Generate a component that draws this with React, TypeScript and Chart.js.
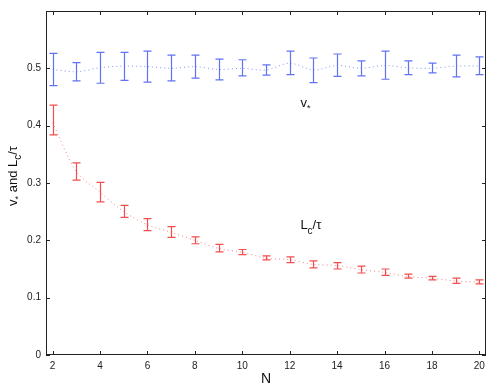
import React, { useEffect, useRef } from 'react';
import { Chart, registerables } from 'chart.js';

Chart.register(...registerables);

const N = [2, 3, 4, 5, 6, 7, 8, 9, 10, 11, 12, 13, 14, 15, 16, 17, 18, 19, 20];
const vStar = [0.498, 0.494, 0.501, 0.504, 0.503, 0.5, 0.503, 0.498, 0.5, 0.497, 0.509, 0.497, 0.505, 0.5, 0.505, 0.501, 0.5, 0.504, 0.504];
const vStarLow = [0.47, 0.478, 0.474, 0.479, 0.476, 0.478, 0.483, 0.48, 0.487, 0.488, 0.489, 0.475, 0.486, 0.487, 0.481, 0.489, 0.492, 0.485, 0.489];
const vStarHigh = [0.526, 0.51, 0.528, 0.528, 0.53, 0.523, 0.523, 0.516, 0.515, 0.506, 0.53, 0.518, 0.525, 0.513, 0.53, 0.513, 0.509, 0.523, 0.52];
const lcTau = [0.405, 0.32, 0.284, 0.25, 0.227, 0.214, 0.2, 0.186, 0.179, 0.169, 0.166, 0.158, 0.156, 0.149, 0.144, 0.137, 0.134, 0.129, 0.127];
const lcTauLow = [0.384, 0.305, 0.267, 0.24, 0.217, 0.205, 0.194, 0.18, 0.175, 0.166, 0.161, 0.152, 0.15, 0.143, 0.139, 0.134, 0.131, 0.125, 0.124];
const lcTauHigh = [0.436, 0.335, 0.301, 0.261, 0.238, 0.224, 0.206, 0.193, 0.184, 0.173, 0.171, 0.164, 0.161, 0.155, 0.15, 0.141, 0.137, 0.134, 0.131];
const xTicks = [2, 4, 6, 8, 10, 12, 14, 16, 18, 20];
const yTicks = [0, 0.1, 0.2, 0.3, 0.4, 0.5];

const FONT = '"Liberation Sans", Arial, Helvetica, sans-serif';
const BLUE = 'rgba(80,100,240,0.9)';
const RED = 'rgba(240,60,60,0.9)';

const errorBars = {
  id: 'errorBars',
  afterDatasetsDraw(chart: any) {
    const { ctx, scales } = chart;
    const xs = scales.x;
    const ys = scales.y;
    ctx.save();
    chart.data.datasets.forEach((ds: any) => {
      ctx.strokeStyle = ds.barColor;
      ctx.lineWidth = 1.2;
      ds.data.forEach((p: any, i: number) => {
        const px = Math.round(xs.getPixelForValue(p.x)) + 0.5;
        const y1 = ys.getPixelForValue(ds.errLow[i]);
        const y2 = ys.getPixelForValue(ds.errHigh[i]);
        ctx.beginPath();
        ctx.moveTo(px, y1);
        ctx.lineTo(px, y2);
        ctx.moveTo(px - 4, y1);
        ctx.lineTo(px + 4, y1);
        ctx.moveTo(px - 4, y2);
        ctx.lineTo(px + 4, y2);
        ctx.stroke();
      });
    });
    ctx.restore();
  },
};

function drawPieces(ctx: any, pieces: [string, number, number][], x: number, y: number) {
  let cx = x;
  pieces.forEach(([t, size, dy]) => {
    ctx.font = `${size}px ${FONT}`;
    ctx.fillText(t, cx, y + dy);
    cx += ctx.measureText(t).width;
  });
}
function measurePieces(ctx: any, pieces: [string, number, number][]) {
  let w = 0;
  pieces.forEach(([t, size]) => {
    ctx.font = `${size}px ${FONT}`;
    w += ctx.measureText(t).width;
  });
  return w;
}

const frame = {
  id: 'frame',
  afterDraw(chart: any) {
    const { ctx, chartArea, scales } = chart;
    const { left, right, top, bottom } = chartArea;
    const xs = scales.x;
    const ys = scales.y;
    ctx.save();
    ctx.strokeStyle = '#222';
    ctx.lineWidth = 1;
    ctx.strokeRect(Math.round(left) + 0.5, Math.round(top) + 0.5, Math.round(right - left) - 1, Math.round(bottom - top) - 1);
    ctx.beginPath();
    xTicks.forEach((v) => {
      const px = Math.round(xs.getPixelForValue(v)) + 0.5;
      ctx.moveTo(px, bottom);
      ctx.lineTo(px, bottom - 4);
      ctx.moveTo(px, top);
      ctx.lineTo(px, top + 4);
    });
    yTicks.forEach((v) => {
      const py = Math.round(ys.getPixelForValue(v)) + 0.5;
      ctx.moveTo(left, py);
      ctx.lineTo(left + 4, py);
      ctx.moveTo(right, py);
      ctx.lineTo(right - 4, py);
    });
    ctx.stroke();

    ctx.fillStyle = '#111';
    ctx.textBaseline = 'alphabetic';
    ctx.textAlign = 'left';
    // annotations
    const vx = xs.getPixelForValue(12.45);
    const vy = ys.getPixelForValue(0.433);
    drawPieces(ctx, [['v', 13, 0], ['*', 9, 4]], vx, vy);
    const lx = xs.getPixelForValue(12.45);
    const ly = ys.getPixelForValue(0.219);
    drawPieces(ctx, [['L', 13, 0], ['c', 10, 5], ['/τ', 13, 0]], lx, ly);

    // x title
    ctx.font = `14px ${FONT}`;
    ctx.textAlign = 'center';
    ctx.fillText('N', (left + right) / 2, 383);

    // y title
    ctx.textAlign = 'left';
    const pieces: [string, number, number][] = [['v', 13, 0], ['*', 9, 4], [' and L', 13, 0], ['c', 10, 4], ['/τ', 13, 0]];
    const w = measurePieces(ctx, pieces);
    ctx.translate(17, 176);
    ctx.rotate(-Math.PI / 2);
    drawPieces(ctx, pieces, -w / 2, 0);
    ctx.restore();
  },
};

export default function App() {
  const ref = useRef<HTMLCanvasElement | null>(null);
  useEffect(() => {
    if (!ref.current) return;
    const chart = new Chart(ref.current, {
      type: 'line',
      data: {
        datasets: [
          {
            label: 'v*',
            data: N.map((n, i) => ({ x: n, y: vStar[i] })),
            borderColor: 'rgba(120,140,245,0.9)',
            borderWidth: 1,
            borderDash: [1, 3],
            pointRadius: 0,
            tension: 0.3,
            errLow: vStarLow,
            errHigh: vStarHigh,
            barColor: BLUE,
          } as any,
          {
            label: 'Lc/τ',
            data: N.map((n, i) => ({ x: n, y: lcTau[i] })),
            borderColor: 'rgba(245,120,120,0.9)',
            borderWidth: 1,
            borderDash: [1, 3],
            pointRadius: 0,
            tension: 0.3,
            errLow: lcTauLow,
            errHigh: lcTauHigh,
            barColor: RED,
          } as any,
        ],
      },
      options: {
        responsive: false,
        animation: false,
        layout: { padding: { left: 0, right: 5, top: 9, bottom: 0 } },
        plugins: { legend: { display: false }, tooltip: { enabled: false } },
        scales: {
          x: {
            type: 'linear',
            min: 1.72,
            max: 20.28,
            grid: { display: false, drawTicks: false },
            border: { display: false },
            afterBuildTicks: (s: any) => {
              s.ticks = xTicks.map((v) => ({ value: v }));
            },
            afterFit: (s: any) => {
              s.height = 34;
            },
            ticks: { color: '#222', font: { size: 10, family: FONT }, padding: 5, maxRotation: 0 },
          },
          y: {
            type: 'linear',
            min: 0,
            max: 0.6,
            grid: { display: false, drawTicks: false },
            border: { display: false },
            afterBuildTicks: (s: any) => {
              s.ticks = yTicks.map((v) => ({ value: v }));
            },
            afterFit: (s: any) => {
              s.width = 46;
            },
            ticks: {
              color: '#222',
              font: { size: 10, family: FONT },
              padding: 5,
              callback: (v: any) => String(Math.round(v * 10) / 10),
            },
          },
        },
      },
      plugins: [errorBars, frame],
    });
    return () => chart.destroy();
  }, []);
  return (
    <div style={{ position: 'fixed', left: 0, top: 0, width: 491, height: 389, background: '#fff' }}>
      <canvas ref={ref} width={491} height={389} />
    </div>
  );
}
